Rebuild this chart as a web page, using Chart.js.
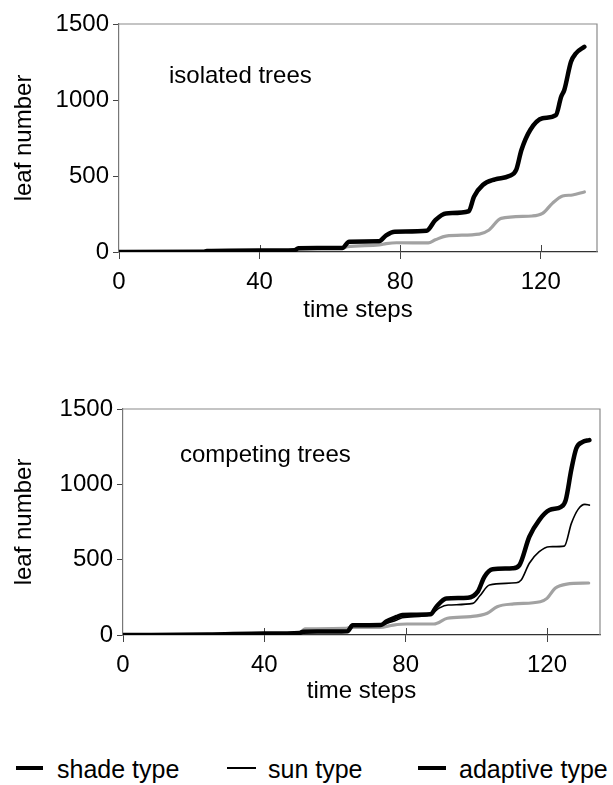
<!DOCTYPE html>
<html>
<head>
<meta charset="utf-8">
<script src="https://cdn.jsdelivr.net/npm/chart.js@4/dist/chart.umd.min.js"></script>
<style>
html,body{margin:0;padding:0;background:#fff;}
body{width:613px;height:785px;position:relative;overflow:hidden;font-family:"Liberation Sans",Arial,sans-serif;color:#000;}
.cv{position:absolute;left:0;width:613px;}
.note{position:absolute;font-size:24px;line-height:normal;white-space:nowrap;}
.lg{position:absolute;font-size:25px;line-height:normal;white-space:nowrap;}
.mk{position:absolute;background:#000;}
</style>
</head>
<body>
<div class="cv" style="top:0;height:345px;"><canvas id="c1"></canvas></div>
<div class="cv" style="top:385px;height:343px;"><canvas id="c2"></canvas></div>
<div class="note" style="left:169px;top:61px;">isolated trees</div>
<div class="note" style="left:180px;top:440px;">competing trees</div>
<div class="mk" style="left:16px;top:766px;width:27px;height:4px;"></div>
<div class="lg" style="left:57px;top:755px;">shade type</div>
<div class="mk" style="left:227px;top:767px;width:29px;height:2px;"></div>
<div class="lg" style="left:268px;top:755px;">sun type</div>
<div class="mk" style="left:418px;top:766px;width:28px;height:4px;"></div>
<div class="lg" style="left:459px;top:755px;">adaptive type</div>
<script>
// ---- data ----
const seriesNames = ["shade type", "sun type", "adaptive type"];
const xTicks = [0, 40, 80, 120];
const yTicks = [0, 500, 1000, 1500];
const panelTitles = ["isolated trees", "competing trees"];

// isolated trees
const isoAdaptiveT = [0, 24, 25, 40, 50, 51, 63.5, 65.5, 74, 76, 78.5, 87.5, 90, 93, 99.5, 101, 103.5, 107, 111, 113, 114.5, 117, 120.5, 124.3, 125.8, 126.7, 128.6, 130, 132.4];
const isoAdaptiveV = [0, 2, 6, 10, 12, 25, 27, 68, 70, 110, 134, 140, 210, 254, 268, 364, 441, 478, 500, 540, 671, 803, 880, 901, 1022, 1066, 1252, 1307, 1350];
const isoSunT = [0, 24, 25, 40, 50, 51, 63.5, 65.5, 74, 76, 78.5, 87.5, 90, 93, 99.5, 101, 103.5, 107, 111, 113, 114.5, 117, 120.5, 124.3, 125.8, 126.7, 128.6, 130, 132.4];
const isoSunV = [0, 2, 6, 10, 12, 25, 27, 66, 70, 108, 132, 138, 205, 250, 266, 360, 438, 475, 498, 535, 665, 795, 875, 898, 1018, 1060, 1248, 1303, 1345];
const isoShadeT = [0, 24, 40, 50, 51, 63.5, 65, 74, 76, 79, 88, 90, 93, 102.5, 105.3, 108.7, 117.6, 120.5, 123.3, 126.2, 129, 132.4];
const isoShadeV = [0, 2, 8, 10, 20, 25, 35, 46, 55, 61, 60, 80, 105, 118, 145, 221, 237, 254, 320, 368, 375, 395];

// competing trees
const cmpAdaptiveT = [0, 24, 40, 50, 51, 63.5, 65, 73, 74.5, 77.5, 79, 87, 88.7, 91.5, 97.6, 100.4, 102.3, 104.6, 110.3, 112.2, 115, 117.8, 120.7, 124, 125.3, 126.9, 128.3, 130, 132];
const cmpAdaptiveV = [0, 3, 10, 14, 22, 25, 64, 66, 89, 120, 133, 137, 188, 243, 247, 288, 387, 436, 443, 464, 652, 763, 829, 851, 896, 1100, 1239, 1280, 1294];
const cmpSunT = [0, 24, 40, 50, 51, 63.5, 65, 73, 75, 77.5, 79, 87, 89.6, 92, 99, 101, 103.7, 111.3, 112.7, 115, 117.8, 120.7, 124.9, 126.9, 128.8, 130.7, 132];
const cmpSunV = [0, 3, 10, 14, 22, 25, 62, 64, 80, 100, 115, 135, 180, 199, 210, 260, 332, 347, 365, 476, 553, 586, 590, 741, 834, 867, 862];
const cmpShadeT = [0, 24, 40, 44, 50, 51.5, 63, 64.2, 72.7, 76.5, 80.3, 88, 91.8, 98.4, 103.1, 105.9, 110.6, 118.1, 120, 122.3, 125.6, 131.8];
const cmpShadeV = [0, 3, 8, 10, 15, 40, 44, 50, 51, 66, 73, 73, 111, 122, 144, 188, 206, 221, 243, 310, 338, 345];

// ---- helpers ----
const pts = (t, v) => t.map((x, i) => ({x: x, y: v[i]}));
const FONT = {family: "'Liberation Sans', Arial, sans-serif", size: 24};

const framePlugin = {
  id: 'frame',
  beforeDatasetsDraw(chart) {
    const {ctx, chartArea: a} = chart;
    ctx.save();
    ctx.strokeStyle = '#8a8a8a';
    ctx.lineWidth = 1.2;
    ctx.beginPath();
    ctx.moveTo(a.left, a.top); ctx.lineTo(a.right, a.top); ctx.lineTo(a.right, a.bottom);
    ctx.stroke();
    ctx.strokeStyle = '#444';
    ctx.lineWidth = 1;
    const xs = chart.scales.x;
    xTicks.forEach(v => {
      if (v === xs.min) return;
      const px = Math.round(xs.getPixelForValue(v)) + 0.5;
      ctx.beginPath(); ctx.moveTo(px, a.bottom - 7); ctx.lineTo(px, a.bottom); ctx.stroke();
    });
    ctx.restore();
  }
};

function makeChart(id, sets, o) {
  return new Chart(document.getElementById(id), {
    type: 'line',
    data: {
      datasets: [
        {label: seriesNames[2], data: pts(sets.adT, sets.adV), borderColor: '#000', borderWidth: 4.5},
        {label: seriesNames[1], data: pts(sets.suT, sets.suV), borderColor: '#000', borderWidth: 1.6},
        {label: seriesNames[0], data: pts(sets.shT, sets.shV), borderColor: '#a2a2a2', borderWidth: 3.2}
      ]
    },
    options: {
      responsive: true,
      maintainAspectRatio: false,
      animation: false,
      events: [],
      elements: {point: {radius: 0}, line: {cubicInterpolationMode: 'monotone', borderJoinStyle: 'round', borderCapStyle: 'round'}},
      layout: {padding: {top: 24, right: o.right, left: 0, bottom: 0}},
      plugins: {legend: {display: false}, tooltip: {enabled: false}},
      scales: {
        x: {
          type: 'linear', min: 0, max: o.xmax,
          afterBuildTicks: s => { s.ticks = xTicks.map(v => ({value: v})); },
          afterFit: s => { s.height = 93; },
          grid: {drawOnChartArea: false, drawTicks: true, tickLength: 7, color: '#444'},
          border: {display: true, color: '#333', width: 1.2},
          ticks: {color: '#000', font: FONT, padding: 9, maxRotation: 0, autoSkip: false, callback: v => String(v)},
          title: {display: true, text: 'time steps', color: '#000', font: FONT, padding: {top: 0, bottom: o.tpad}}
        },
        y: {
          type: 'linear', min: 0, max: 1500,
          afterBuildTicks: s => { s.ticks = yTicks.map(v => ({value: v})); },
          afterFit: s => { s.width = o.left; },
          grid: {drawOnChartArea: false, drawTicks: true, tickLength: 6, color: '#444'},
          border: {display: true, color: '#777', width: 1.2},
          ticks: {color: '#000', font: FONT, padding: 4, callback: v => String(v)},
          title: {display: true, text: 'leaf number', color: '#000', font: FONT, padding: {top: 10, bottom: 0}}
        }
      }
    },
    plugins: [framePlugin]
  });
}

makeChart('c1', {adT: isoAdaptiveT, adV: isoAdaptiveV, suT: isoSunT, suV: isoSunV, shT: isoShadeT, shV: isoShadeV},
  {xmax: 136, left: 119, right: 16, tpad: 20});
makeChart('c2', {adT: cmpAdaptiveT, adV: cmpAdaptiveV, suT: cmpSunT, suV: cmpSunV, shT: cmpShadeT, shV: cmpShadeV},
  {xmax: 135, left: 123, right: 13, tpad: 22});
</script>
</body>
</html>
